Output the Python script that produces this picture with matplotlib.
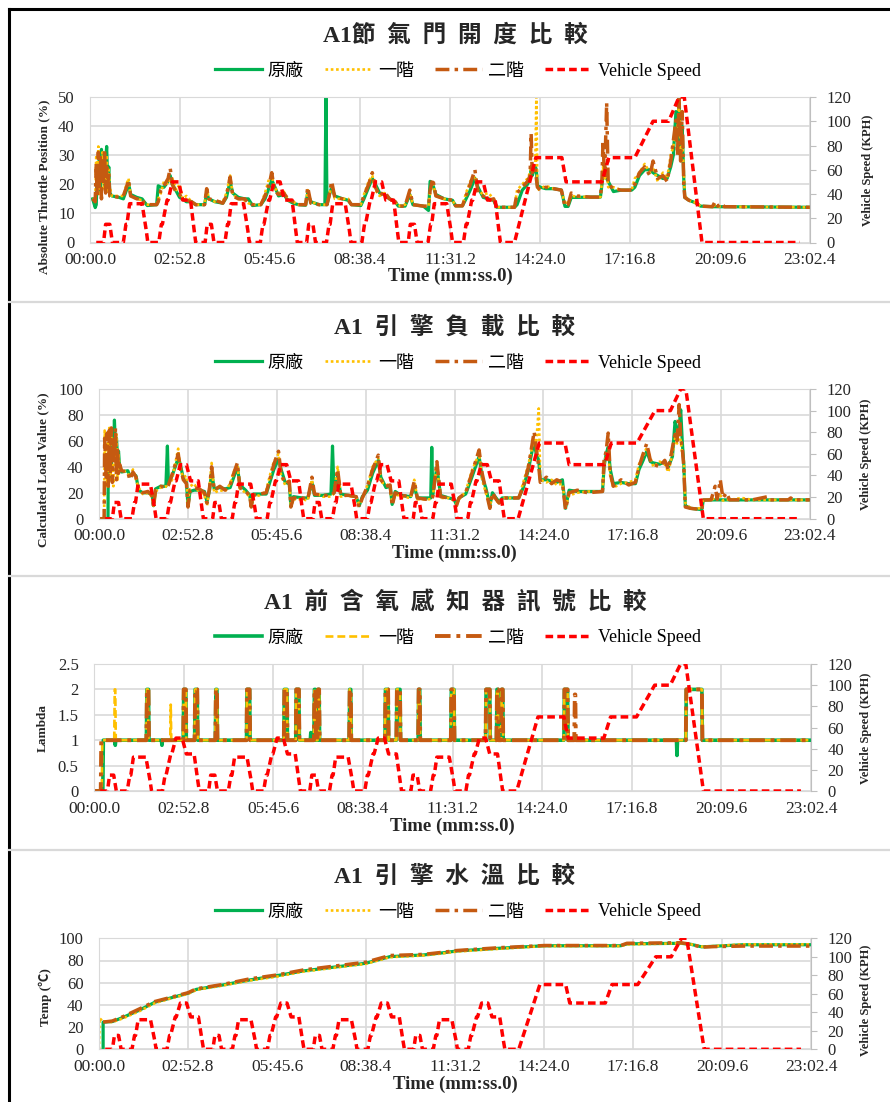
import matplotlib
matplotlib.use("Agg")
import matplotlib.pyplot as plt
from matplotlib.lines import Line2D

FONT = ["Liberation Serif", "Noto Sans CJK TC"]
plt.rcParams["font.family"] = FONT

W, H = 890, 1102

# 時間軸 (秒) 與刻度文字
x_max = 1382.4
x_ticks = [0, 172.8, 345.6, 518.4, 691.2, 864.0, 1036.8, 1209.6, 1382.4]
x_ticklabels = ["00:00.0", "02:52.8", "05:45.6", "08:38.4", "11:31.2",
                "14:24.0", "17:16.8", "20:09.6", "23:02.4"]

titles = ["A1節  氣  門  開  度  比  較", "A1  引  擎  負  載  比  較",
          "A1  前  含  氧  感  知  器  訊  號  比  較", "A1  引  擎  水  溫  比  較"]
legend_names = ["原廠", "一階", "二階", "Vehicle Speed"]

# 車速 (s, km/h)
spd_t = [12, 26, 30, 38, 43, 64, 69, 71, 76, 100, 108, 111, 132, 137, 139, 148, 150, 158, 170, 178, 193, 200, 203,
         221, 225, 233, 238, 259, 264, 266, 271, 295, 303, 306, 327, 332, 334, 343, 345, 353, 365, 373, 388, 395, 398,
         416, 420, 428, 433, 454, 459, 461, 466, 490, 498, 501, 522, 527, 529, 538, 540, 548, 560, 568, 583, 590, 593,
         611, 615, 623, 628, 649, 654, 656, 661, 685, 693, 696, 717, 722, 724, 733, 735, 743, 755, 763, 778, 785, 788,
         815, 856, 906, 914, 983, 996, 1046, 1081, 1111, 1131, 1141, 1175, 1363]
spd_v = [0, 0, 15, 15, 0, 0, 15, 15, 32, 32, 10, 0, 0, 15, 15, 35, 35, 50, 50, 35, 35, 10, 0,
         0, 15, 15, 0, 0, 15, 15, 32, 32, 10, 0, 0, 15, 15, 35, 35, 50, 50, 35, 35, 10, 0,
         0, 15, 15, 0, 0, 15, 15, 32, 32, 10, 0, 0, 15, 15, 35, 35, 50, 50, 35, 35, 10, 0,
         0, 15, 15, 0, 0, 15, 15, 32, 32, 10, 0, 0, 15, 15, 35, 35, 50, 50, 35, 35, 10, 0,
         0, 70, 70, 50, 50, 70, 70, 100, 100, 120, 120, 0, 0]

# 節氣門開度 (%)
tps_t = [5, 10, 12, 14, 16, 18, 20, 22, 24, 26,
         28, 30, 32, 34, 36, 38, 42, 56, 64, 70,
         74, 78, 90, 100, 104, 110, 128, 131, 136, 142,
         150, 154, 158, 166, 172, 178, 185, 195, 203, 220,
         224, 228, 240, 255, 262, 269, 274, 285, 297, 304,
         312, 328, 336, 344, 349, 354, 362, 372, 380, 390,
         400, 414, 418, 424, 440, 451, 453, 455, 459, 464,
         470, 485, 496, 502, 520, 526, 535, 542, 548, 556,
         565, 575, 586, 592, 605, 614, 620, 640, 650, 653,
         658, 664, 680, 696, 702, 715, 722, 730, 739, 745,
         755, 765, 775, 781, 815, 820, 830, 840, 845, 847,
         849, 855, 857, 859, 865, 875, 890, 905, 912, 918,
         924, 935, 960, 980, 983, 985, 988, 992, 995, 1005,
         1020, 1040, 1046, 1055, 1065, 1075, 1081, 1090, 1100, 1108,
         1115, 1120, 1125, 1128, 1131, 1134, 1137, 1140, 1142, 1150,
         1165, 1172, 1195, 1200, 1205, 1212, 1218, 1382]
tps_orig = [15, 12, 13, 25, 20, 31, 17, 32, 22, 30,
            19, 28, 33, 20, 26, 17, 16, 15.5, 15, 18,
            20.5, 16.5, 15.5, 15, 14, 12.7, 13, 19.5, 19, 19,
            21, 23, 20, 17.5, 15.5, 15, 14, 14, 13, 13,
            17, 15, 14, 13.5, 15.5, 21, 17, 15.5, 15, 15,
            12.7, 13, 15, 19, 21.5, 19.5, 16, 16.5, 14.5, 13.5,
            13, 12.8, 17, 14, 13, 13, 50, 13, 16, 19,
            16, 15, 14.5, 13, 12.7, 15, 19, 22, 20, 17,
            16.5, 15, 14, 12.5, 12.5, 16.5, 13, 12.5, 11, 21,
            20, 16.5, 15, 14.5, 12.6, 12.6, 15, 18, 22, 19,
            15.5, 15, 14.5, 12.1, 12.1, 13, 18, 20, 22, 25,
            23, 26, 25, 19.5, 19, 18.5, 18.5, 18, 12.4, 12.4,
            15.5, 15.5, 15.6, 15.6, 20, 24, 23, 22, 21, 17.5,
            18, 18, 19, 23, 25, 25, 24, 23, 22, 22,
            26, 30, 45, 35, 48, 32, 40, 22, 15.5, 14.5,
            13.5, 12.5, 12.3, 12.3, 12.3, 12.3, 12.3, 12.1]
tps_s1 = [15, 15, 30, 22, 33, 16, 29, 24, 31, 18,
          27, 22, 30, 17, 25, 19, 16, 16, 16, 20,
          22, 16, 15, 14.5, 13, 13, 13, 15, 17, 21,
          20, 22, 22, 18, 20, 15, 16, 14, 13, 13,
          19, 15, 14, 14, 17, 23, 16.5, 15, 14.5, 13.5,
          13, 13, 17, 22, 23, 19, 17, 17.5, 14.5, 14,
          13, 13, 18, 14, 13, 13, 13, 13, 16, 20,
          15, 15, 15, 13, 13, 16.5, 21, 23, 18, 16,
          17, 15, 14, 12.5, 13, 17, 13, 12.5, 12.5, 17,
          21, 16, 15, 14.5, 12.6, 12.6, 17, 21, 23, 18,
          16.5, 17, 15, 12.1, 12.1, 18, 20, 22, 24, 26,
          25, 27, 50, 18, 18.5, 19.5, 18.5, 18, 13, 14,
          16, 15.8, 15.6, 15.6, 21, 26, 22, 25, 19, 19,
          18, 18, 22, 24, 27, 24, 26, 21, 24, 22,
          30, 33, 40, 38, 50, 30, 35, 25, 16, 14.5,
          13.5, 12.5, 12.3, 12.8, 12.5, 12.3, 12.3, 12.1]
tps_s2 = [15, 14, 27, 16, 31, 18, 30, 15, 28, 20,
          32, 17, 26, 19, 24, 16, 16, 15.5, 16, 19,
          21.5, 16, 15, 15, 13.5, 13, 13, 14, 18, 19.5,
          22, 25.5, 20, 17, 16.5, 15, 14.5, 14, 13, 13,
          18.5, 15, 14.5, 13.5, 16, 22.5, 16, 15, 15, 13.5,
          13, 13, 16, 20, 24, 18, 16.5, 17, 15, 14,
          13, 13, 19, 13.5, 13, 13, 13, 13, 16, 21,
          15.5, 15, 14.5, 13, 13, 16, 20, 24, 19, 16,
          17.5, 15, 14, 12.5, 12.5, 18, 13, 12.5, 12.5, 18,
          22, 16, 15, 14.5, 12.6, 12.6, 16, 20, 25, 17,
          16, 14.5, 15, 12.1, 12.1, 17, 19, 21, 23, 37.5,
          24, 26, 22, 19, 18, 19, 18.5, 18, 12.4, 13,
          17, 16, 15.6, 15.6, 22, 35, 22, 48, 20, 18.5,
          18, 18, 20, 24, 26, 23, 28, 22, 23, 21,
          28, 35, 42, 30, 50, 28, 45, 20, 15.5, 14.5,
          13.5, 12.5, 12.3, 14, 12.5, 13.5, 12.3, 12.1]

# 引擎負載 (%)
load_t = [2, 10, 11, 14, 16, 17.5, 18, 20, 22, 24,
          26, 28, 30, 32, 34, 36, 38, 40, 44, 56,
          60, 66, 72, 77, 85, 95, 103, 106, 110, 120,
          130, 133, 135, 142, 150, 154, 158, 164, 170, 173,
          177, 185, 195, 205, 210, 215, 219, 224, 235, 245,
          255, 262, 269, 274, 285, 293, 296, 300, 312, 325,
          332, 340, 349, 354, 362, 370, 373, 378, 395, 406,
          414, 419, 435, 451, 454, 457, 464, 470, 485, 500,
          506, 512, 522, 532, 543, 548, 558, 566, 570, 576,
          587, 606, 613, 619, 635, 645, 647, 649, 657, 664,
          680, 690, 695, 700, 713, 725, 739, 745, 752, 760,
          765, 772, 778, 784, 816, 825, 835, 846, 850, 855,
          858, 870, 880, 890, 901, 907, 914, 930, 950, 979,
          982, 986, 990, 994, 1000, 1015, 1030, 1043, 1050, 1058,
          1065, 1072, 1078, 1090, 1100, 1107, 1115, 1120, 1124, 1128,
          1131, 1134, 1137, 1140, 1150, 1172, 1175, 1190, 1198, 1202,
          1208, 1213, 1220, 1226, 1250, 1270, 1300, 1305, 1340, 1345,
          1350, 1382]
load_orig = [0, 0, 0, 0, 0, 0, 45, 30, 62, 40,
             66, 50, 76, 55, 62, 48, 52, 40, 36, 37,
             33, 35, 33, 22, 20, 20, 19, 10, 23, 25,
             25, 56, 27, 33, 42, 47, 42, 31, 28, 10,
             21, 22, 22, 21, 13, 22, 36, 23, 24, 23,
             24, 32, 40, 26, 22, 18, 10, 19, 19, 19,
             28, 38, 46, 38, 28, 27, 10, 17, 16, 16,
             28, 18, 18, 19, 56, 20, 33, 19, 18, 17,
             10, 17, 22, 35, 45, 32, 24, 25, 11, 21,
             18, 17, 25, 16, 16, 16, 55, 18, 40, 18,
             16, 15, 11, 16, 19, 32, 48, 32, 24, 10,
             20, 16, 13, 16, 16, 24, 38, 60, 50, 45,
             30, 30, 29, 28, 30, 8, 22, 21, 21, 21,
             40, 50, 55, 38, 27, 28, 27, 27, 38, 45,
             52, 44, 43, 42, 44, 40, 48, 75, 68, 70,
             84, 60, 42, 10, 8, 7, 14.4, 14.5, 14.5, 14.5,
             14.5, 14.5, 14.5, 14.5, 14.5, 14.5, 14.5, 14.5, 14.5, 14.5,
             14.5, 14.5]
load_s1 = [0, 0, 68, 45, 25, 60, 35, 70, 30, 66,
           40, 25, 60, 45, 65, 30, 50, 37, 38, 35,
           32, 38, 30, 24, 19, 20, 17, 10, 21, 24,
           25, 24, 26, 30, 46, 54, 38, 32, 33, 12,
           25, 27, 20, 18, 10, 25, 43, 20, 22, 21,
           27, 36, 42, 23, 20, 17, 10, 17, 18, 21,
           33, 44, 50, 33, 26, 30, 10, 15, 15, 14,
           30, 20, 17, 17, 18, 20, 40, 17, 18, 16,
           11, 15, 26, 40, 47, 28, 27, 24, 12, 19,
           17, 16, 30, 15, 15, 15, 16, 17, 42, 16,
           16, 14, 12, 15, 21, 37, 50, 30, 20, 10,
           18, 14, 12, 16, 16, 28, 42, 62, 58, 85,
           30, 28, 30, 26, 27, 9, 18, 20, 21, 21,
           42, 48, 50, 33, 24, 27, 28, 30, 42, 48,
           55, 47, 40, 44, 42, 36, 50, 62, 58, 65,
           60, 50, 45, 12, 8, 8, 14.4, 14.5, 16, 15,
           18, 14, 15, 14.5, 16, 14.5, 14.5, 14.5, 14.5, 14.5,
           14.5, 14.5]
load_s2 = [0, 0, 62, 30, 66, 40, 25, 68, 35, 70,
           28, 62, 45, 70, 30, 55, 35, 42, 37, 36,
           30, 36, 32, 23, 20, 21, 18, 9, 22, 25,
           24, 25, 26, 34, 44, 50, 40, 30, 27, 9,
           22, 24, 23, 20, 12, 24, 40, 22, 25, 22,
           26, 35, 43, 24, 21, 18, 9, 18, 19, 20,
           30, 42, 52, 35, 27, 29, 9, 16, 16, 15,
           32, 19, 18, 18, 19, 20, 38, 18, 18, 17,
           9, 16, 25, 38, 49, 30, 25, 26, 10, 20,
           18, 17, 29, 16, 15, 16, 16, 17, 44, 17,
           16, 15, 10, 16, 20, 35, 53, 35, 22, 8,
           20, 15, 12, 16, 16, 25, 40, 67, 55, 40,
           28, 32, 27, 30, 28, 7, 20, 22, 20, 21,
           45, 52, 66, 35, 25, 30, 26, 28, 40, 50,
           58, 45, 42, 40, 45, 38, 55, 65, 60, 88,
           62, 55, 40, 9, 8, 7, 14.4, 14.5, 25, 15,
           30, 16, 20, 14.5, 14.5, 14.5, 17, 14.5, 14.5, 16,
           14.5, 14.5]

# 含氧感知器 lambda: 起始時間與 (開始, 結束, 數值) 事件
lam_on_orig, lam_on_s1, lam_on_s2 = 17, 15, 13
lam_ev_orig = [(40, 41, 0.9), (101, 105, 2), (130, 131, 0.9), (172, 177, 2), (194, 199, 2), (234, 237, 2),
               (294, 300, 2), (366, 372, 2), (389, 395, 2), (417, 418, 1.15), (424, 427, 2), (431, 434, 2),
               (492, 495, 2), (561, 567, 2), (583, 590, 2), (625, 628, 2), (688, 694, 2), (755, 763, 2),
               (776, 779, 2), (785, 788, 2), (906, 913, 2), (1123, 1124, 0.7), (1141, 1172, 2)]
lam_ev_s1 = [(39, 41, 2), (101, 104, 2), (147, 148, 1.7), (172, 177, 2), (194, 199, 2), (234, 237, 2),
             (294, 300, 2), (366, 372, 2), (389, 395, 2), (424, 427, 2), (431, 434, 2), (492, 495, 2),
             (561, 567, 2), (583, 590, 2), (625, 628, 2), (688, 694, 2), (755, 763, 2), (776, 779, 2),
             (785, 788, 2), (906, 913, 2), (1141, 1172, 2)]
lam_ev_s2 = [(101, 105, 2), (172, 177, 2), (194, 199, 2), (234, 237, 2), (294, 300, 2), (366, 372, 2),
             (389, 395, 2), (424, 427, 2), (431, 434, 2), (492, 495, 2), (561, 567, 2), (583, 590, 2),
             (625, 628, 2), (688, 694, 2), (755, 763, 2), (776, 779, 2), (785, 788, 2), (906, 913, 2),
             (926, 928, 1.9), (1141, 1172, 2)]

# 引擎水溫 (°C)
temp_t = [8, 26, 47, 79, 108, 137, 173, 189, 241, 293, 346, 397, 449, 518, 565, 630, 669, 695,
          776, 865, 1013, 1025, 1130, 1150, 1170, 1194, 1250, 1382]
temp_orig = [24.5, 25, 28.8, 35.4, 42.3, 46, 50.5, 54, 58, 62.5, 66.4, 70.6, 73.6, 77.5, 83.5, 85, 87, 88.6,
             91, 93.3, 93.3, 95, 95.5, 94.5, 92.3, 92.8, 94.2, 94.2]
temp_s1 = [25, 24.5, 28, 34.5, 41.5, 45.5, 50, 53.5, 57.5, 62, 65.5, 70, 73, 77, 83, 84.5, 86.5, 88,
           90.5, 93, 93, 94.5, 95.5, 94.5, 92.5, 93, 94.5, 94.5]
temp_s2 = [24.5, 25.5, 29.5, 36.5, 43, 46.5, 51, 54.5, 58.5, 63.5, 67, 71.5, 74.5, 78.5, 84.5, 85.5, 87.5, 89,
           91.5, 93.5, 93.5, 95.5, 96, 94.5, 92, 92.5, 93, 93]

GREEN, YELLOW, ORANGE, RED = "#00B050", "#FFC000", "#C55A11", "#FF0000"
GRID = "#D9D9D9"
TXT = "#262626"


def lambda_trace(t_on, events):
    t, v = [0, t_on, t_on + 1], [0, 0, 1.0]
    for a, b, h in events:
        t += [a, a + 1, b, b + 1]
        v += [1.0, h, h, 1.0]
    t.append(1382)
    v.append(1.0)
    return t, v


fig = plt.figure(figsize=(W / 100, H / 100), dpi=100)
fig.patch.set_facecolor("white")

# 外框與分隔線
fig.add_artist(Line2D([9 / W, 1], [1 - 9 / H] * 2, color="black", lw=2.2))
fig.add_artist(Line2D([9 / W] * 2, [0, 1 - 9 / H], color="black", lw=2.2))
for sy in [302, 576, 850]:
    fig.add_artist(Line2D([9 / W, 1], [1 - sy / H] * 2, color=GRID, lw=1.6))


def ftext(px, py, s, **kw):
    fig.text(px / W, 1 - py / H, s, ha="center", va="center", color=TXT, **kw)


def panel(box, title, title_y, leg_y, xlab_y, ylab, ylab_xy, rlab_xy,
          ylim, yticks, yticklabels, series, yellow_ls, lw=2.3):
    l, t, r, b = box
    ax = fig.add_axes([l / W, 1 - b / H, (r - l) / W, (b - t) / H])
    (tg, vg), (ty, vy), (to, vo) = series
    lg, = ax.plot(tg, vg, color=GREEN, lw=lw)
    ly, = ax.plot(ty, vy, color=YELLOW, lw=1.9, ls=yellow_ls)
    lo, = ax.plot(to, vo, color=ORANGE, lw=lw + 0.2, ls=(0, (4, 1.5, 1, 1.5)))
    ax.set_xlim(0, x_max)
    ax.set_ylim(*ylim)
    ax.set_xticks(x_ticks)
    ax.set_xticklabels(x_ticklabels)
    ax.set_yticks(yticks)
    ax.set_yticklabels(yticklabels)
    ax.grid(True, color=GRID, lw=1.2)
    ax.set_axisbelow(True)
    for sp in ax.spines.values():
        sp.set_color(GRID)
    ax.spines["right"].set_visible(False)
    ax.tick_params(axis="x", length=0, pad=7, labelsize=12.5, labelcolor=TXT)
    ax.tick_params(axis="y", length=0, pad=11, labelsize=12, labelcolor=TXT)

    ax2 = ax.twinx()
    ls_, = ax2.plot(spd_t, spd_v, color=RED, lw=2.5, ls=(0, (2.2, 1.2)))
    ax2.set_xlim(0, x_max)
    ax2.set_ylim(0, 120)
    ax2.set_yticks([0, 20, 40, 60, 80, 100, 120])
    for name in ["left", "top", "bottom"]:
        ax2.spines[name].set_visible(False)
    ax2.spines["right"].set_color("#BFBFBF")
    ax2.tick_params(axis="y", length=4, color="#BFBFBF", pad=8, labelsize=12, labelcolor=TXT)

    ftext(455, title_y, title, fontsize=17, fontweight="bold")
    fig.legend([lg, ly, lo, ls_], legend_names, loc="center",
               bbox_to_anchor=(458 / W, 1 - leg_y / H), ncol=4, frameon=False,
               fontsize=13, handlelength=2.6, handletextpad=0.3, columnspacing=1.2)
    ftext((l + r) / 2, xlab_y, "Time (mm:ss.0)", fontsize=13.5, fontweight="bold")
    ftext(ylab_xy[0], ylab_xy[1], ylab, fontsize=9.5, fontweight="bold", rotation=90)
    ftext(rlab_xy[0], rlab_xy[1], "Vehicle Speed (KPH)", fontsize=9, fontweight="bold", rotation=90)


dotted = (0, (1, 1))
dashed = (0, (3, 1.5))

panel((90, 97, 810, 242.5), titles[0], 35, 71, 276,
      "Absolute Throttle Position (%)", (44, 187), (868, 170),
      (0, 50), [0, 10, 20, 30, 40, 50], ["0", "10", "20", "30", "40", "50"],
      [(tps_t, tps_orig), (tps_t, tps_s1), (tps_t, tps_s2)], dotted)

panel((99, 389, 810, 518.7), titles[1], 327, 363, 553,
      "Calculated Load Value (%)", (43, 470), (866, 454),
      (0, 100), [0, 20, 40, 60, 80, 100], ["0", "20", "40", "60", "80", "100"],
      [(load_t, load_orig), (load_t, load_s1), (load_t, load_s2)], dotted)

panel((94, 664, 811, 791), titles[2], 603, 638, 826,
      "Lambda", (43, 728), (866, 728),
      (0, 2.5), [0, 0.5, 1, 1.5, 2, 2.5], ["0", "0.5", "1", "1.5", "2", "2.5"],
      [lambda_trace(lam_on_orig, lam_ev_orig), lambda_trace(lam_on_s1, lam_ev_s1),
       lambda_trace(lam_on_s2, lam_ev_s2)], dashed, lw=2.6)

panel((99, 938.3, 811, 1049.3), titles[3], 877, 912, 1084,
      "Temp (℃)", (45, 997), (866, 1000),
      (0, 100), [0, 20, 40, 60, 80, 100], ["0", "20", "40", "60", "80", "100"],
      [([8] + temp_t, [0] + temp_orig), ([0, 1] + temp_t, [0, 28] + temp_s1), (temp_t, temp_s2)], dotted)

fig.savefig("out.png", dpi=100)
